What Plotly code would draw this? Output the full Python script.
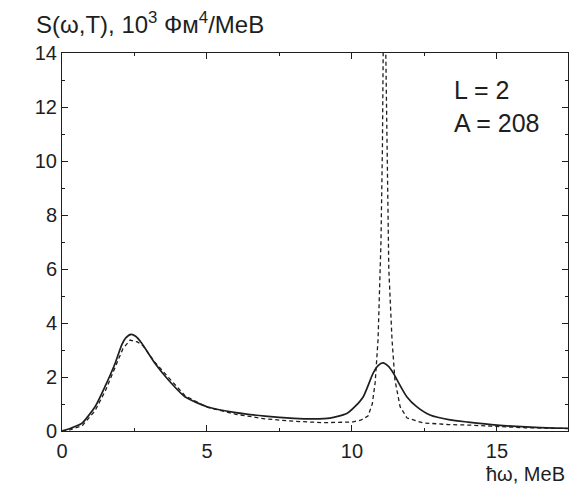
import plotly.graph_objects as go

# Solid curve: S(omega, T)
omega_solid = [0.0, 0.3, 0.68, 1.14, 1.48, 1.83, 2.06, 2.2, 2.38, 2.55, 2.75, 3.21, 3.67, 4.24,
               5.0, 6.0, 7.0, 8.0, 8.7, 9.24, 9.82, 10.1, 10.39, 10.73, 10.9, 11.07, 11.25,
               11.43, 11.55, 11.89, 12.23, 12.69, 13.38, 14.0, 15.0, 16.0, 17.0, 17.5]
s_solid = [0.0, 0.1, 0.28, 0.9, 1.64, 2.5, 3.19, 3.45, 3.58, 3.5, 3.25, 2.5, 1.89, 1.27,
           0.9, 0.68, 0.55, 0.47, 0.45, 0.48, 0.65, 0.9, 1.27, 2.14, 2.42, 2.52, 2.4,
           2.14, 1.9, 1.27, 0.9, 0.59, 0.41, 0.33, 0.22, 0.15, 0.11, 0.1]

# Dashed curve
omega_dashed = [0.0, 0.3, 0.7, 1.14, 1.5, 1.85, 2.1, 2.35, 2.6, 2.8, 3.2, 3.7, 4.25, 5.0,
                6.0, 7.0, 8.0, 9.0, 10.0, 10.3, 10.55, 10.7, 10.8, 10.9, 11.0, 11.05, 11.08,
                11.12, 11.16, 11.2, 11.27, 11.38, 11.48, 11.66, 11.9, 12.45, 13.3, 14.0,
                15.0, 16.0, 17.0, 17.5]
s_dashed = [0.0, 0.05, 0.2, 0.75, 1.5, 2.4, 3.05, 3.37, 3.3, 3.15, 2.55, 1.95, 1.3, 0.88,
            0.62, 0.45, 0.36, 0.31, 0.33, 0.4, 0.55, 1.0, 1.8, 3.4, 7.0, 10.5, 14.5,
            20.0, 14.5, 10.5, 6.0, 3.4, 1.9, 0.9, 0.48, 0.3, 0.24, 0.22,
            0.16, 0.12, 0.1, 0.09]

x_tick_vals = [0, 5, 10, 15]
y_tick_vals = [0, 2, 4, 6, 8, 10, 12, 14]

INK = "#1e1e1e"
FONT = "Liberation Sans, Arial, sans-serif"

fig = go.Figure()
fig.add_trace(go.Scatter(x=omega_dashed, y=s_dashed, mode="lines",
                         line=dict(color=INK, width=1.3, dash="4px,3px"),
                         showlegend=False))
fig.add_trace(go.Scatter(x=omega_solid, y=s_solid, mode="lines",
                         line=dict(color=INK, width=1.7, shape="spline", smoothing=0.6),
                         showlegend=False))

axis_common = dict(showline=True, linecolor=INK, linewidth=1, mirror="ticks",
                   ticks="inside", tickcolor=INK, tickwidth=1, showgrid=False,
                   zeroline=False, tickfont=dict(family=FONT, size=20, color=INK))

fig.update_xaxes(range=[0, 17.45], tickvals=x_tick_vals, ticklen=6, ticklabelstandoff=2,
                 minor=dict(ticks="inside", dtick=2.5, tick0=0, ticklen=3, tickcolor=INK),
                 **axis_common)
fig.update_yaxes(range=[0, 14], tickvals=y_tick_vals, ticklen=6,
                 minor=dict(ticks="inside", dtick=1, tick0=0, ticklen=3, tickcolor=INK),
                 **axis_common)

fig.add_annotation(text="S(ω,T), 10<sup>3</sup> Фм<sup>4</sup>/MeB", xref="paper", yref="paper",
                   x=-0.056, y=1.0, xanchor="left", yanchor="bottom", yshift=13,
                   showarrow=False, font=dict(family=FONT, size=24, color=INK))
fig.add_annotation(text="ħω, MeB", xref="paper", yref="paper", x=0.998, y=0,
                   xanchor="right", yanchor="top", yshift=-30, showarrow=False,
                   font=dict(family=FONT, size=20, color=INK))
fig.add_annotation(text="L = 2<br>A = 208", xref="paper", yref="paper", x=0.77, y=0.944,
                   xanchor="left", yanchor="top", align="left", showarrow=False,
                   font=dict(family=FONT, size=25, color=INK))

fig.update_layout(width=571, height=487, margin=dict(l=62, r=3, t=53, b=56),
                  plot_bgcolor="white", paper_bgcolor="white")

# remove the default 8px page margin so the figure fills the 571x487 window exactly
fig.write_html("out.html", config={"displayModeBar": False},
               post_script="document.body.style.margin='0';document.body.style.overflow='hidden';")
